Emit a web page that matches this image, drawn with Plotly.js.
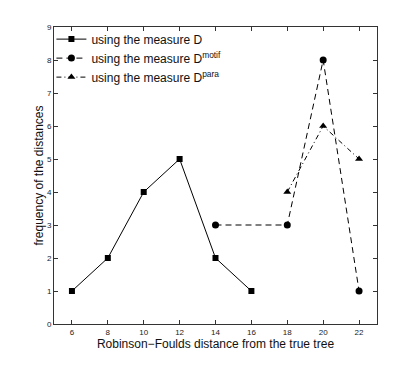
<!DOCTYPE html>
<html>
<head>
<meta charset="utf-8">
<script src="https://cdn.plot.ly/plotly-3.0.1.min.js"></script>
<style>
  body { margin: 0; background: #fff; }
  #myDiv { width: 415px; height: 365px; }
</style>
</head>
<body>
<div id="myDiv"></div>
<script>
// values
var xD = [6, 8, 10, 12, 14, 16];
var yD = [1, 2, 4, 5, 2, 1];
var xMotif = [14, 18, 20, 22];
var yMotif = [3, 3, 8, 1];
var xPara = [18, 20, 22];
var yPara = [4, 6, 5];
var xTicks = [6, 8, 10, 12, 14, 16, 18, 20, 22];
var yTicks = [0, 1, 2, 3, 4, 5, 6, 7, 8, 9];

var data = [{
    x: xD,
    y: yD,
    type: 'scatter',
    mode: 'lines+markers',
    name: 'using the measure D',
    line: {color: 'black', width: 1, dash: 'solid'},
    marker: {symbol: 'square', color: 'black', size: 6}
  },{
    x: xMotif,
    y: yMotif,
    type: 'scatter',
    mode: 'lines+markers',
    name: 'using the measure D<sup>motif</sup>',
    line: {color: 'black', width: 1, dash: '6px,4px'},
    marker: {symbol: 'circle', color: 'black', size: 7}
  },{
    x: xPara,
    y: yPara,
    type: 'scatter',
    mode: 'lines+markers',
    name: 'using the measure D<sup>para</sup>',
    line: {color: 'black', width: 1, dash: '5px,3px,1px,3px'},
    marker: {symbol: 'triangle-up', color: 'black', size: 7}
  }];

var axisStyle = {
  showline: true,
  linecolor: '#333',
  linewidth: 1,
  mirror: 'ticks',
  ticks: 'inside',
  ticklen: 4,
  tickcolor: '#333',
  showgrid: false,
  zeroline: false,
  tickfont: {family: 'Liberation Sans, Arial, sans-serif', size: 8, color: '#222'}
};

var layout = {
  width: 415,
  height: 365,
  margin: {l: 54, r: 38, t: 27, b: 41},
  paper_bgcolor: 'white',
  plot_bgcolor: 'white',
  font: {family: 'Liberation Sans, Arial, sans-serif', color: '#111'},
  xaxis: Object.assign({}, axisStyle, {
    range: [5, 23],
    tickvals: xTicks,
    title: {text: 'Robinson\u2212Foulds distance from the true tree', font: {size: 12}, standoff: 0}
  }),
  yaxis: Object.assign({}, axisStyle, {
    range: [0, 9],
    tickvals: yTicks,
    title: {text: 'frequency of the distances', font: {size: 12}, standoff: 0}
  }),
  showlegend: true,
  legend: {
    x: -0.008,
    y: 1.008,
    xanchor: 'left',
    yanchor: 'top',
    bgcolor: 'rgba(0,0,0,0)',
    borderwidth: 0,
    font: {size: 12},
    tracegroupgap: 0,
    itemwidth: 30
  }
};

Plotly.newPlot('myDiv', data, layout, {displayModeBar: false, staticPlot: true});
</script>
</body>
</html>
